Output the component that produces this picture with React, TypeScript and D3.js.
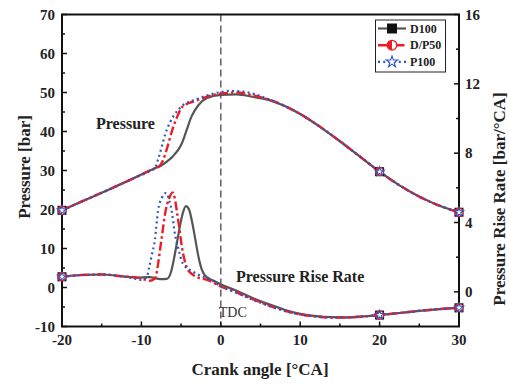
import React from 'react';
import * as d3 from 'd3';

// ---- data ----
const pD100Angle = [-20, -17, -14, -11, -8.5, -7.5, -6.8, -6.2, -5.8, -5.3, -4.9, -4.3, -3.7, -2.8, -1.8, 0, 2, 4, 6, 8, 10, 12.5, 15, 17.5, 20, 22.5, 25, 27.5, 30];
const pD100 = [19.8, 22.5, 25.2, 28.0, 30.4, 31.3, 32.3, 33.3, 34.2, 35.5, 37.0, 40.4, 43.8, 46.8, 48.5, 49.4, 49.5, 48.9, 48.1, 46.6, 44.5, 41.2, 37.5, 33.6, 29.7, 26.2, 23.3, 21.0, 19.3];

const pDP50Angle = [-20, -17, -14, -11, -8.5, -7.8, -7.3, -6.8, -6.2, -5.55, -4.9, -4.0, -3.0, -1.8, 0, 2, 4, 6, 8, 10, 12.5, 15, 17.5, 20, 22.5, 25, 27.5, 30];
const pDP50 = [19.8, 22.5, 25.2, 28.0, 30.4, 31.0, 32.5, 35.5, 39.8, 43.5, 46.2, 47.3, 48.0, 48.9, 49.7, 50.0, 49.3, 48.2, 46.6, 44.5, 41.2, 37.5, 33.6, 29.7, 26.2, 23.3, 21.0, 19.3];

const pP100Angle = [-20, -17, -14, -11, -9, -8.3, -7.9, -7.45, -7.0, -6.4, -6.0, -4.9, -3.0, -0.5, 1.2, 3, 4.5, 6, 8, 10, 12.5, 15, 17.5, 20, 22.5, 25, 27.5, 30];
const pP100 = [19.8, 22.5, 25.2, 28.0, 29.8, 30.6, 32.8, 36.0, 39.3, 42.3, 43.8, 46.5, 48.3, 49.9, 50.4, 50.2, 49.4, 48.3, 46.6, 44.5, 41.2, 37.5, 33.6, 29.7, 26.2, 23.3, 21.0, 19.3];

const rD100Angle = [-20, -17.5, -15, -12.5, -10.5, -9, -7.6, -6.8, -6.3, -5.9, -5.5, -5.1, -4.75, -4.4, -4.0, -3.6, -3.2, -2.8, -2.4, -2.0, -1.5, -0.7, 0.4, 1.7, 4, 6, 8, 10, 12, 14, 16, 18, 20, 22.5, 25, 27.5, 30];
const rD100 = [0.87, 0.97, 1.0, 0.9, 0.82, 0.85, 0.73, 0.75, 1.1, 1.9, 2.9, 3.9, 4.6, 4.95, 4.75, 4.0, 3.0, 2.0, 1.3, 0.95, 0.78, 0.6, 0.35, 0.12, -0.35, -0.71, -1.03, -1.27, -1.4, -1.46, -1.47, -1.42, -1.34, -1.22, -1.1, -1.0, -0.92];

const rDP50Angle = [-20, -17.5, -15, -12.5, -10.5, -9.5, -8.9, -8.26, -7.9, -7.6, -7.3, -7.0, -6.5, -6.07, -5.8, -5.5, -5.2, -4.9, -4.6, -4.25, -3.7, -3.2, -1.7, 0, 1.7, 4, 6, 8, 10, 12, 14, 16, 18, 20, 22.5, 25, 27.5, 30];
const rDP50 = [0.87, 0.97, 1.0, 0.9, 0.82, 0.7, 0.64, 0.79, 1.6, 2.6, 3.6, 4.55, 5.4, 5.74, 5.4, 4.55, 3.6, 2.6, 1.9, 1.37, 1.05, 0.89, 0.69, 0.31, 0.02, -0.42, -0.78, -1.08, -1.3, -1.42, -1.48, -1.48, -1.42, -1.34, -1.22, -1.1, -1.0, -0.92];

const rP100Angle = [-20, -17.5, -15, -12.5, -11, -10.2, -9.3, -9.1, -8.7, -8.3, -7.9, -7.45, -6.9, -6.5, -6.2, -5.8, -5.35, -4.8, -3.5, -2.2, -1.2, 0, 1.7, 4, 6, 8, 10, 12, 14, 16, 18, 20, 22.5, 25, 27.5, 30];
const rP100 = [0.87, 0.97, 1.0, 0.9, 0.78, 0.69, 0.88, 1.26, 2.1, 3.0, 4.7, 5.4, 5.7, 5.3, 4.7, 3.4, 2.5, 1.65, 1.16, 0.87, 0.68, 0.3, 0.0, -0.45, -0.8, -1.1, -1.31, -1.43, -1.48, -1.48, -1.42, -1.34, -1.22, -1.1, -1.0, -0.92];

const markerAngles = [-20, 20, 30];
const xTicks = [-20, -10, 0, 10, 20, 30];
const xMinor = [-15, -5, 5, 15, 25];
const yLTicks = [-10, 0, 10, 20, 30, 40, 50, 60, 70];
const yLMinor = [-5, 5, 15, 25, 35, 45, 55, 65];
const yRTicks = [0, 4, 8, 12, 16];
const yRMinor = [2, 6, 10, 14];
const legendNames = ['D100', 'D/P50', 'P100'];

// ---- layout ----
const W = 509, H = 385;
const L = 62, R = 459, T = 14.5, B = 326.5;
const FONT = '"Liberation Serif", "Times New Roman", serif';

const x = d3.scaleLinear().domain([-20, 30]).range([L, R]);
const yL = d3.scaleLinear().domain([-10, 70]).range([B, T]);
const yR = d3.scaleLinear().domain([-2, 16]).range([B, T]);

const styles = [
  { color: '#555555', dash: undefined as string | undefined, width: 2.2 },
  { color: '#ee1c25', dash: '9,3,2.5,3', width: 2.4 },
  { color: '#2f55c0', dash: '2,3.2', width: 2.2 },
];

const series = [
  { pa: pD100Angle, p: pD100, ra: rD100Angle, r: rD100 },
  { pa: pDP50Angle, p: pDP50, ra: rDP50Angle, r: rDP50 },
  { pa: pP100Angle, p: pP100, ra: rP100Angle, r: rP100 },
];

function pathFor(a: number[], v: number[], ys: d3.ScaleLinear<number, number>) {
  const pts = a.map((ang, i) => [ang, v[i]] as [number, number]);
  return d3.line<[number, number]>().x(d => x(d[0])).y(d => ys(d[1])).curve(d3.curveMonotoneX)(pts) || '';
}

function valueAt(a: number[], v: number[], ang: number) {
  const i = a.indexOf(ang);
  if (i >= 0) return v[i];
  return d3.scaleLinear().domain(a).range(v)(ang);
}

const starSmall = d3.symbol(d3.symbolStar, 26)() || '';
const starLegend = d3.symbol(d3.symbolStar, 40)() || '';

function Marker({ kind, cx, cy, legend }: { kind: number; cx: number; cy: number; legend?: boolean }) {
  if (kind === 0) {
    const s = legend ? 10 : 9;
    return <rect x={cx - s / 2} y={cy - s / 2} width={s} height={s} fill="#111" />;
  }
  if (kind === 1) {
    const r = legend ? 4.8 : 4;
    return (
      <g>
        <circle cx={cx} cy={cy} r={r} fill="#fff" stroke="#ee1c25" strokeWidth={1.3} />
        <path d={`M${cx},${cy - r} A${r},${r} 0 0 0 ${cx},${cy + r} Z`} fill="#ee1c25" />
      </g>
    );
  }
  return <path d={legend ? starLegend : starSmall} transform={`translate(${cx},${cy})`} fill="#fff" stroke="#2f55c0" strokeWidth={1.1} />;
}

export default function App() {
  return (
    <svg width={W} height={H} style={{ position: 'absolute', left: 0, top: 0, background: '#fff' }} fontFamily={FONT}>
      <rect x={0} y={0} width={W} height={H} fill="#fff" />
      {/* TDC line */}
      <line x1={x(0)} x2={x(0)} y1={T} y2={B} stroke="#555" strokeWidth={1.4} strokeDasharray="7,4" />
      <text x={x(0) - 2} y={317} fontSize={14} fill="#333">TDC</text>

      {/* curves */}
      {series.map((s, i) => (
        <g key={i}>
          <path d={pathFor(s.pa, s.p, yL)} fill="none" stroke={styles[i].color} strokeWidth={styles[i].width} strokeDasharray={styles[i].dash} />
          <path d={pathFor(s.ra, s.r, yR)} fill="none" stroke={styles[i].color} strokeWidth={styles[i].width} strokeDasharray={styles[i].dash} />
        </g>
      ))}

      {/* annotations */}
      <text x={96} y={129} fontSize={16} fontWeight="bold" fill="#222">Pressure</text>
      <text x={236} y={282} fontSize={16} fontWeight="bold" fill="#222">Pressure Rise Rate</text>

      {/* frame */}
      <rect x={L} y={T} width={R - L} height={B - T} fill="none" stroke="#111" strokeWidth={2} />

      {/* x ticks */}
      {xTicks.map(t => (
        <g key={'x' + t}>
          <line x1={x(t)} x2={x(t)} y1={B} y2={B - 5} stroke="#111" strokeWidth={1.5} />
          <text x={x(t)} y={345} fontSize={15} fontWeight="bold" textAnchor="middle" fill="#222">{t}</text>
        </g>
      ))}
      {xMinor.map(t => (
        <line key={'xm' + t} x1={x(t)} x2={x(t)} y1={B} y2={B - 3} stroke="#111" strokeWidth={1.5} />
      ))}
      {/* left ticks */}
      {yLTicks.map(t => (
        <g key={'yl' + t}>
          <line x1={L} x2={L + 5} y1={yL(t)} y2={yL(t)} stroke="#111" strokeWidth={1.5} />
          <text x={L - 7} y={yL(t)} dy="0.35em" fontSize={15} fontWeight="bold" textAnchor="end" fill="#222">{t}</text>
        </g>
      ))}
      {yLMinor.map(t => (
        <line key={'ylm' + t} x1={L} x2={L + 3} y1={yL(t)} y2={yL(t)} stroke="#111" strokeWidth={1.5} />
      ))}
      {/* right ticks */}
      {yRTicks.map(t => (
        <g key={'yr' + t}>
          <line x1={R} x2={R - 5} y1={yR(t)} y2={yR(t)} stroke="#111" strokeWidth={1.5} />
          <text x={R + 6} y={yR(t)} dy="0.35em" fontSize={15} fontWeight="bold" textAnchor="start" fill="#222">{t}</text>
        </g>
      ))}
      {yRMinor.map(t => (
        <line key={'yrm' + t} x1={R} x2={R - 3} y1={yR(t)} y2={yR(t)} stroke="#111" strokeWidth={1.5} />
      ))}

      {/* markers */}
      {series.map((s, i) => (
        <g key={'m' + i}>
          {markerAngles.map(a => (
            <Marker key={'p' + a} kind={i} cx={x(a)} cy={yL(valueAt(s.pa, s.p, a))} />
          ))}
          {markerAngles.map(a => (
            <Marker key={'r' + a} kind={i} cx={x(a)} cy={yR(valueAt(s.ra, s.r, a))} />
          ))}
        </g>
      ))}

      {/* axis titles */}
      <text x={260} y={375} fontSize={17} fontWeight="bold" textAnchor="middle" fill="#222">Crank angle [°CA]</text>
      <text transform="translate(30,167) rotate(-90)" fontSize={17} fontWeight="bold" textAnchor="middle" fill="#222">Pressure [bar]</text>
      <text transform="translate(505,199) rotate(-90)" fontSize={17} fontWeight="bold" textAnchor="middle" fill="#222">Pressure Rise Rate [bar/°CA]</text>

      {/* legend */}
      <rect x={375.5} y={20} width={70} height={52} fill="#fff" stroke="#222" strokeWidth={1} />
      {legendNames.map((n, i) => {
        const ly = 28.5 + i * 16.7;
        return (
          <g key={n}>
            <line x1={378} x2={406} y1={ly} y2={ly} stroke={styles[i].color} strokeWidth={styles[i].width} strokeDasharray={styles[i].dash} />
            <Marker kind={i} cx={392} cy={ly} legend />
            <text x={410} y={ly} dy="0.35em" fontSize={12} fontWeight="bold" fill="#222">{n}</text>
          </g>
        );
      })}
    </svg>
  );
}
